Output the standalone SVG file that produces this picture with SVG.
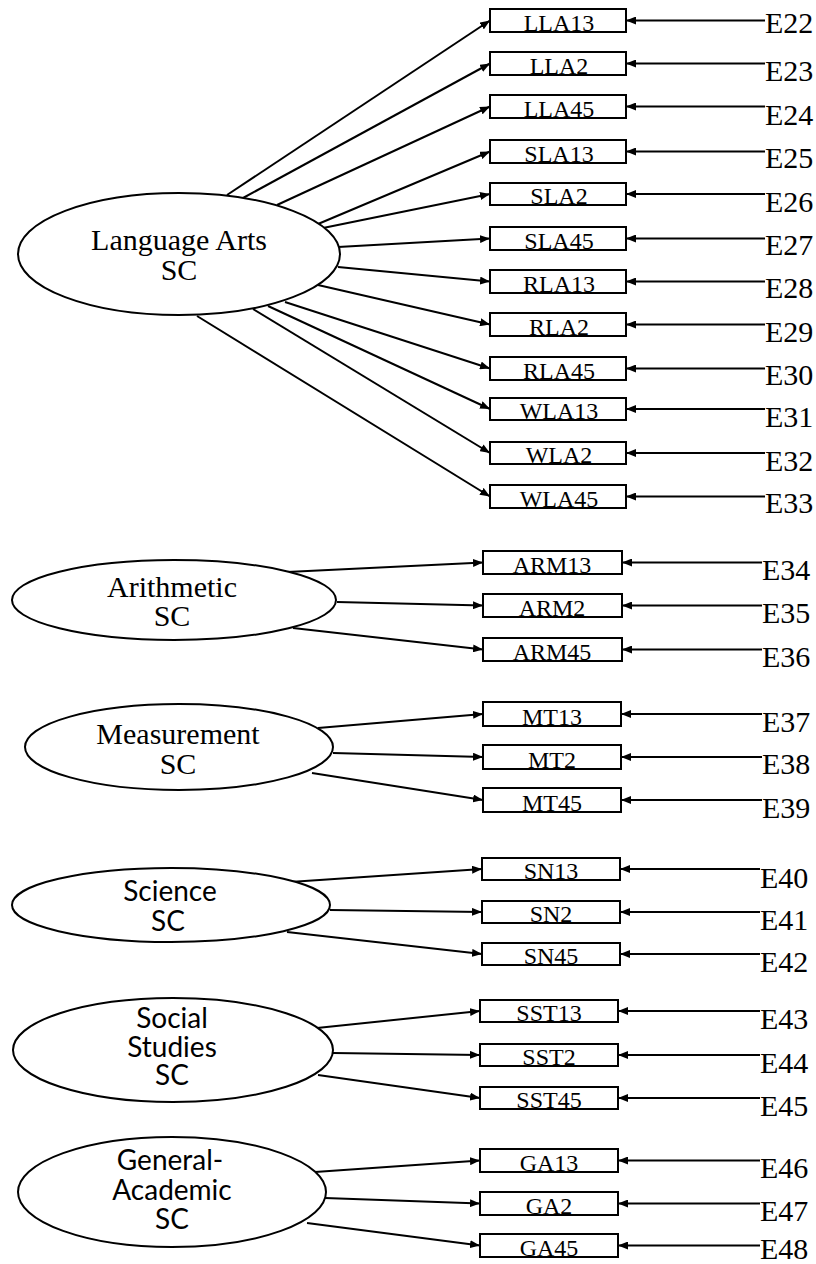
<svg xmlns="http://www.w3.org/2000/svg" width="816" height="1264" viewBox="0 0 816 1264">
<style>
  .ell { fill: #fff; stroke: #000; stroke-width: 2; }
  .box { fill: #fff; stroke: #000; stroke-width: 2; }
  .lt { font-family: "Liberation Serif", serif; font-size: 30px; text-anchor: middle; fill: #000; }
  .ls { font-family: "Lato", "Liberation Sans", sans-serif; font-size: 28px; text-anchor: middle; fill: #000; }
  .bt { font-family: "Liberation Serif", serif; font-size: 24px; text-anchor: middle; fill: #000; }
  .et { font-family: "Liberation Serif", serif; font-size: 30px; fill: #000; }
  .c line { stroke: #000; stroke-width: 2; marker-end: url(#ah); }
</style>
<defs>
  <marker id="ah" markerUnits="userSpaceOnUse" markerWidth="10" markerHeight="8" refX="10" refY="4" orient="auto">
    <path d="M0,0 L10,4 L0,8 z" fill="#000"/>
  </marker>
</defs>

<g id="connectors" class="c">
  <!-- Language Arts -->
  <line x1="227" y1="195" x2="490" y2="20.5"/>
  <line x1="243" y1="198" x2="490" y2="63.5"/>
  <line x1="277" y1="205" x2="490" y2="106.5"/>
  <line x1="318" y1="224" x2="490" y2="151.5"/>
  <line x1="323" y1="228" x2="490" y2="194"/>
  <line x1="338" y1="247" x2="490" y2="238.5"/>
  <line x1="338" y1="267" x2="490" y2="281.5"/>
  <line x1="318" y1="285" x2="490" y2="324.5"/>
  <line x1="285" y1="302" x2="490" y2="368.5"/>
  <line x1="268" y1="306" x2="490" y2="409"/>
  <line x1="253" y1="309" x2="490" y2="453"/>
  <line x1="197" y1="316" x2="490" y2="496.5"/>
  <!-- Arithmetic -->
  <line x1="287" y1="572" x2="483" y2="562.5"/>
  <line x1="337" y1="602" x2="483" y2="605.5"/>
  <line x1="293" y1="628" x2="483" y2="649.5"/>
  <!-- Measurement -->
  <line x1="318" y1="728" x2="483" y2="714"/>
  <line x1="333" y1="753" x2="483" y2="757"/>
  <line x1="312" y1="773" x2="483" y2="800"/>
  <!-- Science -->
  <line x1="290" y1="882" x2="482" y2="869"/>
  <line x1="330" y1="910" x2="482" y2="912"/>
  <line x1="287" y1="932" x2="482" y2="954"/>
  <!-- Social Studies -->
  <line x1="317" y1="1028" x2="480" y2="1011"/>
  <line x1="333" y1="1053" x2="480" y2="1055"/>
  <line x1="318" y1="1075" x2="480" y2="1098"/>
  <!-- General-Academic -->
  <line x1="315" y1="1172" x2="480" y2="1160.5"/>
  <line x1="325" y1="1198" x2="480" y2="1203.5"/>
  <line x1="307" y1="1223" x2="480" y2="1245.5"/>
  <!-- Error terms -->
  <line x1="765" y1="20.5" x2="626" y2="20.5"/>
  <line x1="765" y1="63.5" x2="626" y2="63.5"/>
  <line x1="765" y1="106.5" x2="626" y2="106.5"/>
  <line x1="765" y1="151.5" x2="626" y2="151.5"/>
  <line x1="765" y1="194" x2="626" y2="194"/>
  <line x1="765" y1="238.5" x2="626" y2="238.5"/>
  <line x1="765" y1="281.5" x2="626" y2="281.5"/>
  <line x1="765" y1="324.5" x2="626" y2="324.5"/>
  <line x1="765" y1="368.5" x2="626" y2="368.5"/>
  <line x1="765" y1="409" x2="626" y2="409"/>
  <line x1="765" y1="453" x2="626" y2="453"/>
  <line x1="765" y1="496.5" x2="626" y2="496.5"/>
  <line x1="762" y1="562.5" x2="622" y2="562.5"/>
  <line x1="762" y1="605.5" x2="622" y2="605.5"/>
  <line x1="762" y1="649.5" x2="622" y2="649.5"/>
  <line x1="762" y1="714" x2="621" y2="714"/>
  <line x1="762" y1="757" x2="621" y2="757"/>
  <line x1="762" y1="800" x2="621" y2="800"/>
  <line x1="760" y1="869" x2="620" y2="869"/>
  <line x1="760" y1="912" x2="620" y2="912"/>
  <line x1="760" y1="954" x2="620" y2="954"/>
  <line x1="760" y1="1011" x2="618" y2="1011"/>
  <line x1="760" y1="1055" x2="618" y2="1055"/>
  <line x1="760" y1="1098" x2="618" y2="1098"/>
  <line x1="760" y1="1160.5" x2="618" y2="1160.5"/>
  <line x1="760" y1="1203.5" x2="618" y2="1203.5"/>
  <line x1="760" y1="1245.5" x2="618" y2="1245.5"/>
</g>

<!-- Latent factors -->
<g id="language-arts">
  <ellipse class="ell" cx="179" cy="254" rx="161" ry="61"/>
  <text class="lt" x="179" y="250" font-size="31">Language Arts</text>
  <text class="lt" x="179" y="280">SC</text>
</g>
<g id="arithmetic">
  <ellipse class="ell" cx="174" cy="600" rx="162" ry="40"/>
  <text class="lt" x="172" y="597">Arithmetic</text>
  <text class="lt" x="172" y="626">SC</text>
</g>
<g id="measurement">
  <ellipse class="ell" cx="179" cy="747" rx="154" ry="43"/>
  <text class="lt" x="178" y="744">Measurement</text>
  <text class="lt" x="178" y="774">SC</text>
</g>
<g id="science">
  <ellipse class="ell" cx="171" cy="905" rx="159" ry="37"/>
  <text class="ls" x="170" y="901">Science</text>
  <text class="ls" x="168" y="931">SC</text>
</g>
<g id="social-studies">
  <ellipse class="ell" cx="173" cy="1050" rx="160" ry="52"/>
  <text class="ls" x="172" y="1028">Social</text>
  <text class="ls" x="172" y="1057">Studies</text>
  <text class="ls" x="172" y="1085">SC</text>
</g>
<g id="general-academic">
  <ellipse class="ell" cx="172" cy="1192" rx="154" ry="55"/>
  <text class="ls" x="170" y="1170">General-</text>
  <text class="ls" x="172" y="1200">Academic</text>
  <text class="ls" x="172" y="1229">SC</text>
</g>

<!-- Observed indicators -->
<g id="LLA13"><rect class="box" x="490" y="9" width="136" height="23"/><text class="bt" x="559" y="31">LLA13</text></g>
<g id="LLA2"><rect class="box" x="490" y="52" width="136" height="23"/><text class="bt" x="559" y="74">LLA2</text></g>
<g id="LLA45"><rect class="box" x="490" y="95" width="136" height="23"/><text class="bt" x="559" y="117">LLA45</text></g>
<g id="SLA13"><rect class="box" x="490" y="140" width="136" height="23"/><text class="bt" x="559" y="162">SLA13</text></g>
<g id="SLA2"><rect class="box" x="490" y="183" width="136" height="22"/><text class="bt" x="559" y="204">SLA2</text></g>
<g id="SLA45"><rect class="box" x="490" y="227" width="136" height="23"/><text class="bt" x="559" y="249">SLA45</text></g>
<g id="RLA13"><rect class="box" x="490" y="270" width="136" height="23"/><text class="bt" x="559" y="292">RLA13</text></g>
<g id="RLA2"><rect class="box" x="490" y="313" width="136" height="23"/><text class="bt" x="559" y="335">RLA2</text></g>
<g id="RLA45"><rect class="box" x="490" y="357" width="136" height="23"/><text class="bt" x="559" y="379">RLA45</text></g>
<g id="WLA13"><rect class="box" x="490" y="398" width="136" height="22"/><text class="bt" x="559" y="419">WLA13</text></g>
<g id="WLA2"><rect class="box" x="490" y="442" width="136" height="22"/><text class="bt" x="559" y="463">WLA2</text></g>
<g id="WLA45"><rect class="box" x="490" y="485" width="136" height="23"/><text class="bt" x="559" y="507">WLA45</text></g>

<g id="ARM13"><rect class="box" x="483" y="551" width="139" height="23"/><text class="bt" x="552" y="573">ARM13</text></g>
<g id="ARM2"><rect class="box" x="483" y="594" width="139" height="23"/><text class="bt" x="552" y="616">ARM2</text></g>
<g id="ARM45"><rect class="box" x="483" y="638" width="139" height="23"/><text class="bt" x="552" y="660">ARM45</text></g>
<g id="MT13"><rect class="box" x="483" y="702" width="138" height="24"/><text class="bt" x="552" y="725">MT13</text></g>
<g id="MT2"><rect class="box" x="483" y="745" width="138" height="24"/><text class="bt" x="552" y="768">MT2</text></g>
<g id="MT45"><rect class="box" x="483" y="788" width="138" height="24"/><text class="bt" x="552" y="811">MT45</text></g>
<g id="SN13"><rect class="box" x="482" y="858" width="138" height="22"/><text class="bt" x="551" y="879">SN13</text></g>
<g id="SN2"><rect class="box" x="482" y="901" width="138" height="22"/><text class="bt" x="551" y="922">SN2</text></g>
<g id="SN45"><rect class="box" x="482" y="943" width="138" height="22"/><text class="bt" x="551" y="964">SN45</text></g>
<g id="SST13"><rect class="box" x="480" y="1000" width="138" height="22"/><text class="bt" x="549" y="1021">SST13</text></g>
<g id="SST2"><rect class="box" x="480" y="1044" width="138" height="22"/><text class="bt" x="549" y="1065">SST2</text></g>
<g id="SST45"><rect class="box" x="480" y="1087" width="138" height="22"/><text class="bt" x="549" y="1108">SST45</text></g>
<g id="GA13"><rect class="box" x="480" y="1149" width="138" height="23"/><text class="bt" x="549" y="1171">GA13</text></g>
<g id="GA2"><rect class="box" x="480" y="1192" width="138" height="23"/><text class="bt" x="549" y="1214">GA2</text></g>
<g id="GA45"><rect class="box" x="480" y="1234" width="138" height="23"/><text class="bt" x="549" y="1256">GA45</text></g>

<!-- Error terms -->
<g id="errors">
  <text class="et" x="765" y="33">E22</text>
  <text class="et" x="765" y="81">E23</text>
  <text class="et" x="765" y="125">E24</text>
  <text class="et" x="765" y="168">E25</text>
  <text class="et" x="765" y="212">E26</text>
  <text class="et" x="765" y="255">E27</text>
  <text class="et" x="765" y="298">E28</text>
  <text class="et" x="765" y="342">E29</text>
  <text class="et" x="765" y="385">E30</text>
  <text class="et" x="765" y="427">E31</text>
  <text class="et" x="765" y="471">E32</text>
  <text class="et" x="765" y="513">E33</text>
  <text class="et" x="762" y="580">E34</text>
  <text class="et" x="762" y="623">E35</text>
  <text class="et" x="762" y="667">E36</text>
  <text class="et" x="762" y="732">E37</text>
  <text class="et" x="762" y="774">E38</text>
  <text class="et" x="762" y="818">E39</text>
  <text class="et" x="760" y="888">E40</text>
  <text class="et" x="760" y="930">E41</text>
  <text class="et" x="760" y="972">E42</text>
  <text class="et" x="760" y="1029">E43</text>
  <text class="et" x="760" y="1073">E44</text>
  <text class="et" x="760" y="1116">E45</text>
  <text class="et" x="760" y="1178">E46</text>
  <text class="et" x="760" y="1221">E47</text>
  <text class="et" x="760" y="1259">E48</text>
</g>
</svg>
